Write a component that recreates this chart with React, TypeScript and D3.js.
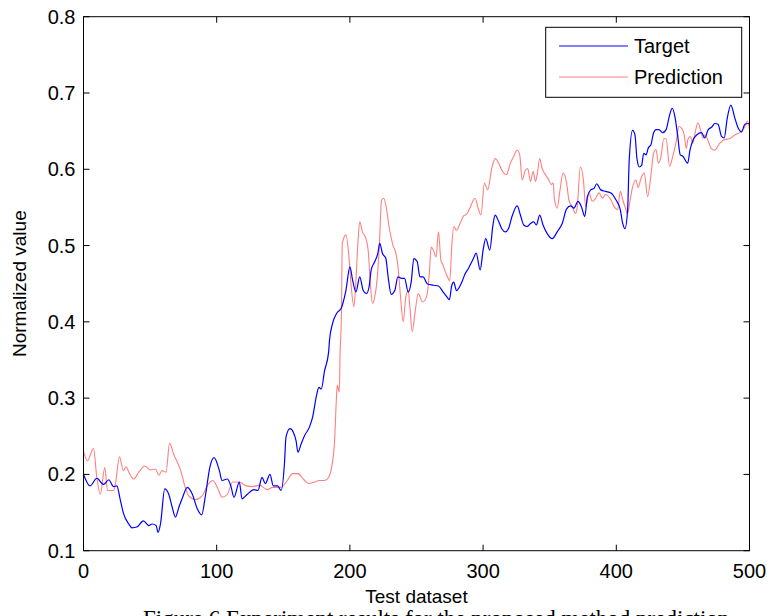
import React from "react";
import * as d3 from "d3";

const xTicks = [0, 100, 200, 300, 400, 500];
const yTicks = [0.1, 0.2, 0.3, 0.4, 0.5, 0.6, 0.7, 0.8];
const yTickLabels = ["0.1", "0.2", "0.3", "0.4", "0.5", "0.6", "0.7", "0.8"];

const targetX = [
  0, 5, 10, 15, 19, 22.6, 25, 27.7, 30, 34, 36.4, 40, 45, 49, 51.5, 54.5, 56, 57.8, 61, 64, 66.6, 69, 71.6, 74, 78,
  81.7, 85.4, 88.7, 91.7, 94.8, 98, 102, 104, 108, 110.6, 113, 117, 119, 123, 128, 131, 134, 136.5, 140, 142.5,
  145.8, 148.3, 151, 152, 155, 157.6, 159.6, 161, 163.4, 166, 169.6, 172, 175, 176.7, 178.5, 181, 184, 184.7, 187,
  190, 193.6, 195, 197, 200, 202, 204.5, 207.4, 210, 212.4, 214.4, 216, 218.7, 221, 222.4, 224.4, 227, 228.7, 231,
  233.7, 236, 238.8, 241, 243.8, 246, 248, 250.5, 252.6, 255, 258, 262.7, 266.5, 270, 272.7, 274.7, 276.5, 278, 280,
  284, 286.5, 289, 292.7, 294.8, 297.8, 300, 302, 305, 307.4, 309, 311.6, 314, 316.7, 319, 321.7, 325.6, 328, 330.5,
  333, 335.6, 338, 340, 342.5, 345, 348, 351.9, 355.6, 359.4, 362.7, 365.7, 368.2, 371.2, 373.8, 376.3, 378.3, 380.8,
  383.3, 385.3, 388.3, 392, 396, 399.7, 403, 404.8, 406.5, 408.5, 409.7, 412.2, 414, 415.5, 417.3, 419, 420.6, 422.4,
  424, 426, 428, 430, 432, 434.8, 437.4, 440, 442, 444, 446, 448, 450, 453.6, 455.3, 457.8, 460.3, 464, 466.4, 469,
  471.5, 474, 476.4, 479, 481, 483.3, 486, 489, 491.5, 494, 496.5, 499.5,
];
const targetY = [
  0.2, 0.185, 0.195, 0.187, 0.193, 0.184, 0.185, 0.166, 0.149, 0.135, 0.13, 0.131, 0.139, 0.133, 0.135, 0.133, 0.124,
  0.135, 0.181, 0.174, 0.157, 0.144, 0.157, 0.168, 0.183, 0.174, 0.155, 0.147, 0.174, 0.209, 0.222, 0.205, 0.192,
  0.194, 0.185, 0.17, 0.19, 0.168, 0.174, 0.18, 0.179, 0.196, 0.188, 0.2, 0.185, 0.185, 0.179, 0.218, 0.249, 0.26,
  0.255, 0.244, 0.229, 0.24, 0.251, 0.262, 0.275, 0.304, 0.314, 0.312, 0.336, 0.36, 0.376, 0.398, 0.411, 0.418, 0.426,
  0.441, 0.472, 0.455, 0.439, 0.459, 0.441, 0.437, 0.446, 0.468, 0.479, 0.49, 0.503, 0.49, 0.483, 0.459, 0.436, 0.441,
  0.459, 0.457, 0.457, 0.439, 0.452, 0.483, 0.479, 0.459, 0.459, 0.45, 0.448, 0.447, 0.439, 0.433, 0.429, 0.448,
  0.452, 0.441, 0.452, 0.463, 0.47, 0.483, 0.49, 0.468, 0.494, 0.509, 0.494, 0.527, 0.54, 0.532, 0.522, 0.518, 0.522,
  0.538, 0.552, 0.54, 0.527, 0.525, 0.529, 0.531, 0.527, 0.54, 0.527, 0.516, 0.509, 0.518, 0.529, 0.548, 0.552, 0.549,
  0.558, 0.551, 0.538, 0.564, 0.573, 0.575, 0.581, 0.573, 0.571, 0.569, 0.56, 0.547, 0.529, 0.522, 0.547, 0.612,
  0.651, 0.645, 0.614, 0.603, 0.605, 0.621, 0.619, 0.628, 0.632, 0.648, 0.652, 0.652, 0.648, 0.652, 0.671, 0.68,
  0.669, 0.645, 0.619, 0.617, 0.608, 0.625, 0.639, 0.645, 0.648, 0.641, 0.652, 0.655, 0.66, 0.659, 0.643, 0.641,
  0.667, 0.684, 0.667, 0.654, 0.649, 0.659, 0.66,
];

const predX = [
  0, 3, 7.5, 10, 12.6, 16, 18, 22.6, 24, 27, 30, 32, 34, 37.7, 41.5, 46, 50, 54, 56.6, 59, 62, 64.6, 68, 70, 73, 76,
  79, 84, 89, 94, 97, 100.5, 104, 108, 112, 117, 122, 127, 132, 138, 142, 148, 153, 157, 161, 165, 169, 173.4, 177,
  181, 184, 186, 188.5, 189.8, 190.5, 192, 192.7, 193.6, 194.3, 197, 199.3, 201, 203, 204.4, 206, 207.4, 209.4, 212,
  213.7, 215.5, 217, 218.7, 220.6, 222.4, 223.7, 225.4, 227.4, 229.4, 232.4, 234.5, 236, 238, 240, 242, 243.8, 245,
  246.8, 248.8, 251.3, 254.6, 257.6, 259.6, 261, 262.7, 264.7, 266.5, 268.3, 270, 272.7, 275, 276.5, 278, 280, 282.7,
  285, 288, 290, 294, 296.6, 298.4, 301, 303.4, 306.7, 309.2, 311.7, 314, 317.5, 320.5, 323, 325.6, 327.5, 329.3,
  331.8, 333.5, 335.6, 337.6, 339.3, 340.6, 342.5, 344.3, 346.8, 349.3, 351, 352.6, 353.6, 355.6, 357.6, 360, 362.7,
  364.4, 367, 369.5, 370.7, 373, 375.3, 377, 379.5, 382, 384.5, 387, 389.6, 392, 395.9, 398.4, 401, 403, 404.8, 406.5,
  408.5, 410.4, 412, 414.7, 416.4, 418.5, 421, 423.5, 426, 428, 429.8, 431.6, 433.6, 435.6, 437.4, 440, 442.4, 445,
  447, 449, 451, 452.6, 453.7, 455.7, 457.5, 459.2, 461.2, 463.2, 465, 466.7, 469.2, 471.3, 473.8, 477.6, 481.4, 485,
  489, 492.6, 496, 498.5, 500,
];
const predY = [
  0.23, 0.218, 0.234, 0.196, 0.174, 0.209, 0.179, 0.179, 0.188, 0.223, 0.205, 0.21, 0.203, 0.194, 0.203, 0.211,
  0.206, 0.207, 0.199, 0.205, 0.203, 0.241, 0.225, 0.218, 0.205, 0.185, 0.172, 0.167, 0.172, 0.188, 0.192, 0.183,
  0.17, 0.174, 0.19, 0.19, 0.185, 0.184, 0.186, 0.18, 0.183, 0.183, 0.192, 0.201, 0.201, 0.194, 0.188, 0.19, 0.192,
  0.192, 0.196, 0.207, 0.244, 0.297, 0.317, 0.308, 0.363, 0.406, 0.503, 0.514, 0.485, 0.446, 0.42, 0.45, 0.503,
  0.531, 0.518, 0.509, 0.494, 0.446, 0.424, 0.433, 0.459, 0.511, 0.559, 0.562, 0.549, 0.525, 0.5, 0.49, 0.474, 0.433,
  0.4, 0.433, 0.441, 0.42, 0.387, 0.411, 0.437, 0.426, 0.433, 0.463, 0.498, 0.494, 0.485, 0.518, 0.481, 0.474, 0.461,
  0.454, 0.5, 0.525, 0.52, 0.529, 0.538, 0.542, 0.549, 0.562, 0.547, 0.54, 0.582, 0.573, 0.603, 0.614, 0.608, 0.599,
  0.593, 0.608, 0.617, 0.625, 0.619, 0.586, 0.599, 0.601, 0.584, 0.597, 0.584, 0.593, 0.614, 0.601, 0.593, 0.586,
  0.58, 0.582, 0.56, 0.549, 0.571, 0.595, 0.582, 0.56, 0.551, 0.542, 0.551, 0.603, 0.586, 0.551, 0.569, 0.558, 0.562,
  0.569, 0.562, 0.567, 0.56, 0.551, 0.547, 0.571, 0.56, 0.551, 0.542, 0.56, 0.575, 0.586, 0.576, 0.588, 0.595, 0.564,
  0.592, 0.621, 0.626, 0.608, 0.617, 0.64, 0.64, 0.604, 0.617, 0.637, 0.656, 0.654, 0.645, 0.627, 0.639, 0.643, 0.634,
  0.648, 0.661, 0.652, 0.641, 0.645, 0.636, 0.627, 0.625, 0.634, 0.639, 0.64, 0.645, 0.648, 0.654, 0.663, 0.652,
];

const seriesNames = ["Target", "Prediction"];
const xLabel = "Test dataset";
const yLabel = "Normalized value";
const caption = "Figure 6 Experiment results for the proposed method prediction";

const W = 772;
const H = 616;
const L = 83.5;
const R = 749.5;
const T = 16.7;
const B = 550.7;
const SANS = "'Liberation Sans', Arial, sans-serif";

export default function App() {
  const x = d3.scaleLinear().domain([0, 500]).range([L, R]);
  const y = d3.scaleLinear().domain([0.1, 0.8]).range([B, T]);
  const line = d3
    .line<[number, number]>()
    .x((d) => x(d[0]))
    .y((d) => y(d[1]))
    .curve(d3.curveMonotoneX);
  const tData = targetX.map((v, i) => [v, targetY[i]] as [number, number]);
  const pData = predX.map((v, i) => [v, predY[i]] as [number, number]);
  const tk = 6;
  return (
    <svg
      width={W}
      height={H}
      style={{ position: "absolute", left: 0, top: 0, background: "#fff" }}
      fontFamily={SANS}
    >
      <rect x={0} y={0} width={W} height={H} fill="#fff" />
      <path d={line(pData) || ""} fill="none" stroke="#ff0000" strokeOpacity={0.5} strokeWidth={1.1} />
      <path d={line(tData) || ""} fill="none" stroke="#0000ff" strokeWidth={1.2} />
      <rect x={L} y={T} width={R - L} height={B - T} fill="none" stroke="#000" strokeWidth={1} />
      {xTicks.map((t) => (
        <g key={"x" + t}>
          <line x1={x(t)} x2={x(t)} y1={B} y2={B - tk} stroke="#000" />
          <line x1={x(t)} x2={x(t)} y1={T} y2={T + tk} stroke="#000" />
          <text x={x(t)} y={B + 27} fontSize={20} textAnchor="middle">
            {t}
          </text>
        </g>
      ))}
      {yTicks.map((t, i) => (
        <g key={"y" + t}>
          <line x1={L} x2={L + tk} y1={y(t)} y2={y(t)} stroke="#000" />
          <line x1={R} x2={R - tk} y1={y(t)} y2={y(t)} stroke="#000" />
          <text x={L - 8} y={y(t)} fontSize={20} textAnchor="end" dominantBaseline="central">
            {yTickLabels[i]}
          </text>
        </g>
      ))}
      <text x={(L + R) / 2} y={603} fontSize={19} textAnchor="middle">
        {xLabel}
      </text>
      <text
        transform={`translate(26, ${(T + B) / 2}) rotate(-90)`}
        fontSize={19}
        textAnchor="middle"
      >
        {yLabel}
      </text>
      <g>
        <rect x={545.7} y={27.3} width={196} height={70} fill="#fff" stroke="#000" strokeWidth={1} />
        <line x1={559} x2={628} y1={46} y2={46} stroke="#0000ff" strokeWidth={1.2} />
        <line x1={559} x2={628} y1={77} y2={77} stroke="#ff0000" strokeOpacity={0.5} strokeWidth={1.1} />
        <text x={634} y={46} fontSize={20} dominantBaseline="central">
          {seriesNames[0]}
        </text>
        <text x={634} y={77} fontSize={20} dominantBaseline="central">
          {seriesNames[1]}
        </text>
      </g>
      <text x={143} y={626} fontSize={23} fontFamily="'Liberation Serif', 'Times New Roman', serif">
        {caption}
      </text>
    </svg>
  );
}
